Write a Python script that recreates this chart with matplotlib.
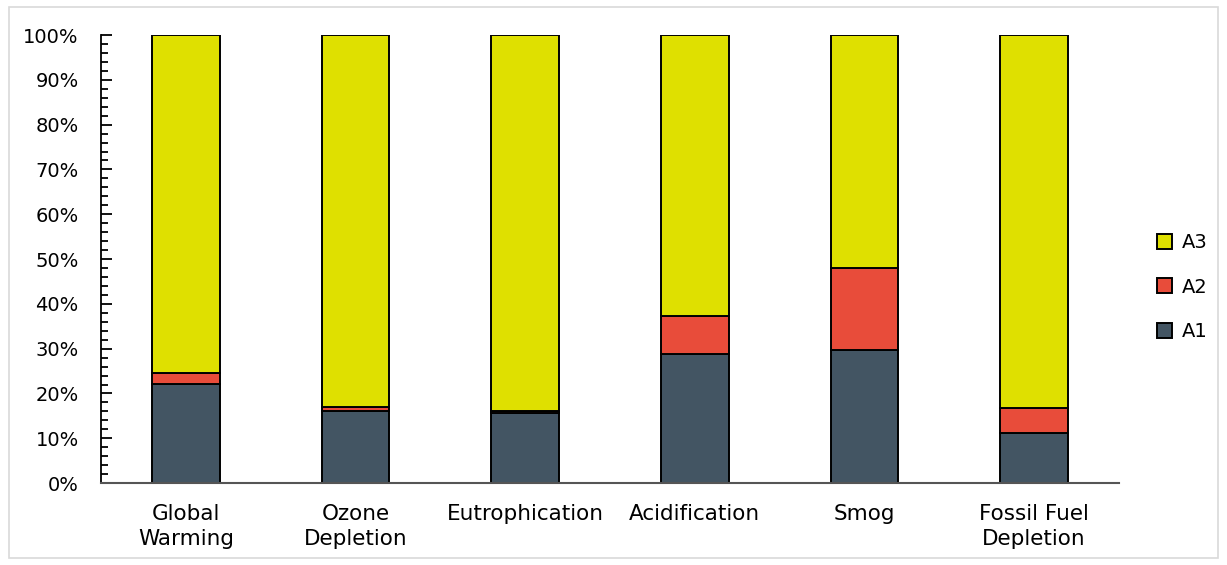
import matplotlib.pyplot as plt
import numpy as np
from matplotlib.ticker import MultipleLocator, PercentFormatter
from matplotlib.patches import Rectangle

categories = ['Global\nWarming', 'Ozone\nDepletion', 'Eutrophication', 'Acidification', 'Smog', 'Fossil Fuel\nDepletion']
a1 = [22.2, 16.1, 15.6, 28.9, 29.8, 11.1]
a2 = [2.3, 0.9, 0.5, 8.5, 18.2, 5.7]
a3 = [100 - x - y for x, y in zip(a1, a2)]

colors = {'A1': '#435563', 'A2': '#E84C3A', 'A3': '#DFE000'}

fig = plt.figure(figsize=(12.27, 5.65), dpi=100)
ax = fig.add_axes([0.0823, 0.145, 0.8297, 0.793])

# rahmen um die ganze grafik
fig.patches.append(Rectangle((0.007, 0.012), 0.986, 0.975, transform=fig.transFigure,
                             fill=False, edgecolor='#d9d9d9', linewidth=1.2))

x = np.arange(len(categories))
w = 0.4
b1 = ax.bar(x, a1, w, color=colors['A1'], edgecolor='black', linewidth=1.4, label='A1')
b2 = ax.bar(x, a2, w, bottom=a1, color=colors['A2'], edgecolor='black', linewidth=1.4, label='A2')
b3 = ax.bar(x, a3, w, bottom=np.array(a1) + np.array(a2), color=colors['A3'],
            edgecolor='black', linewidth=1.4, label='A3')

ax.set_xlim(-0.5, len(categories) - 0.5)
ax.set_ylim(0, 100)
ax.yaxis.set_major_locator(MultipleLocator(10))
ax.yaxis.set_minor_locator(MultipleLocator(2))
ax.yaxis.set_major_formatter(PercentFormatter(decimals=0))
ax.tick_params(axis='y', which='major', direction='in', length=8, width=1.3, labelsize=14, pad=16)
ax.tick_params(axis='y', which='minor', direction='in', length=5, width=1.3)
ax.set_xticks(x)
ax.set_xticklabels(categories, fontsize=15.5, linespacing=1.3)
ax.tick_params(axis='x', length=0, pad=15)

for s in ['top', 'right']:
    ax.spines[s].set_visible(False)
ax.spines['left'].set_linewidth(1.3)
ax.spines['bottom'].set_color('#555555')
ax.spines['bottom'].set_linewidth(1.5)

handles = [b3, b2, b1]
ax.legend(handles, ['A3', 'A2', 'A1'], loc='center left', bbox_to_anchor=(1.02, 0.4375),
          frameon=False, fontsize=14, handlelength=0.8, handleheight=0.8,
          labelspacing=1.3, handletextpad=0.5)

plt.savefig('out.png', dpi=100)
